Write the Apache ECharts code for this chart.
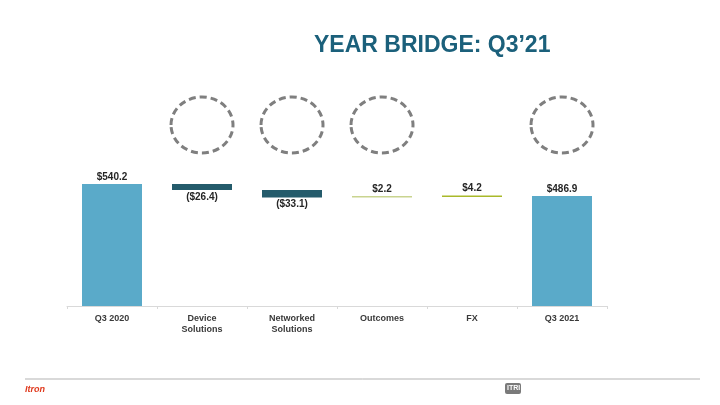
<!DOCTYPE html>
<html>
<head>
<meta charset="utf-8">
<script src="https://cdn.jsdelivr.net/npm/echarts@6/dist/echarts.min.js"></script>
<style>html,body{margin:0;padding:0;background:#fff;}#c{width:720px;height:405px;}</style>
</head>
<body>
<div id="c"></div>
<script>
const categories = ['Q3 2020', 'Device\nSolutions', 'Networked\nSolutions', 'Outcomes', 'FX', 'Q3 2021'];
const startValue = 540.2;
const deltas = [-26.4, -33.1, 2.2, 4.2];
const endValue = 486.9;
const circledIndices = [1, 2, 3, 5];

const totalColor = '#5aaac9';
const negColor = '#245b6b';
const posColors = ['#c9d48f', '#a9b92a'];

const baseData = [];
const valueData = [];
let running = startValue;
baseData.push(0);
valueData.push({ value: startValue, itemStyle: { color: totalColor }, label: { position: 'top', formatter: '$' + startValue.toFixed(1) } });
deltas.forEach((d, i) => {
  if (d < 0) {
    baseData.push(running + d);
    valueData.push({ value: -d, itemStyle: { color: negColor }, label: { position: 'bottom', formatter: '($' + (-d).toFixed(1) + ')' } });
  } else {
    baseData.push(running);
    valueData.push({ value: d, itemStyle: { color: posColors[i - 2] || posColors[1] }, label: { position: 'top', formatter: '$' + d.toFixed(1) } });
  }
  running += d;
});
baseData.push(0);
valueData.push({ value: endValue, itemStyle: { color: totalColor }, label: { position: 'top', formatter: '$' + endValue.toFixed(1) } });

const chart = echarts.init(document.getElementById('c'), null, { renderer: 'canvas' });
const font = '"Liberation Sans", Arial, sans-serif';
chart.setOption({
  animation: false,
  backgroundColor: '#ffffff',
  title: {
    text: 'YEAR BRIDGE: Q3\u201921',
    left: 309, top: 29,
    textStyle: { fontFamily: font, fontSize: 23, fontWeight: 'bold', color: '#1b607b' }
  },
  grid: { left: 67, right: 113, top: 148, bottom: 99 },
  xAxis: {
    type: 'category',
    data: categories,
    axisLine: { lineStyle: { color: '#d9d9d9', width: 1 } },
    axisTick: { show: true, length: 3, lineStyle: { color: '#d9d9d9' } },
    axisLabel: { fontFamily: font, fontSize: 9, fontWeight: 'bold', color: '#3a3a3a', lineHeight: 11, margin: 7 }
  },
  yAxis: { type: 'value', min: 0, max: 700, show: false, splitLine: { show: false } },
  series: [
    { type: 'bar', stack: 'w', data: baseData, barWidth: 60, itemStyle: { color: 'transparent' }, silent: true },
    {
      type: 'bar', stack: 'w', data: valueData, barWidth: 60, barMinHeight: 1.5,
      label: { show: true, fontFamily: font, fontSize: 10, fontWeight: 'bold', color: '#262626', distance: 2 }
    }
  ]
});

const gfx = circledIndices.map(i => {
  const x = chart.convertToPixel({ xAxisIndex: 0 }, i);
  return {
    type: 'ellipse',
    shape: { cx: x, cy: 125, rx: 31, ry: 28 },
    style: { fill: 'none', stroke: '#7f7f7f', lineWidth: 3, lineDash: [7, 4] }
  };
});
gfx.push({ type: 'line', shape: { x1: 25, y1: 379, x2: 700, y2: 379 }, style: { stroke: '#b3b3b3', lineWidth: 1 } });
gfx.push({ type: 'text', left: 25, top: 385, style: { text: 'Itron', fontFamily: font, fontSize: 9, fontWeight: 'bold', fontStyle: 'italic', fill: '#e03a1e' } });
gfx.push({ type: 'rect', shape: { x: 505, y: 383, width: 16, height: 11, r: 2 }, style: { fill: '#7a7a7a' } });
gfx.push({ type: 'text', left: 507, top: 385, style: { text: 'ITRI', fontFamily: font, fontSize: 7, fontWeight: 'bold', fill: '#ffffff' } });
chart.setOption({ graphic: gfx });
</script>
</body>
</html>
